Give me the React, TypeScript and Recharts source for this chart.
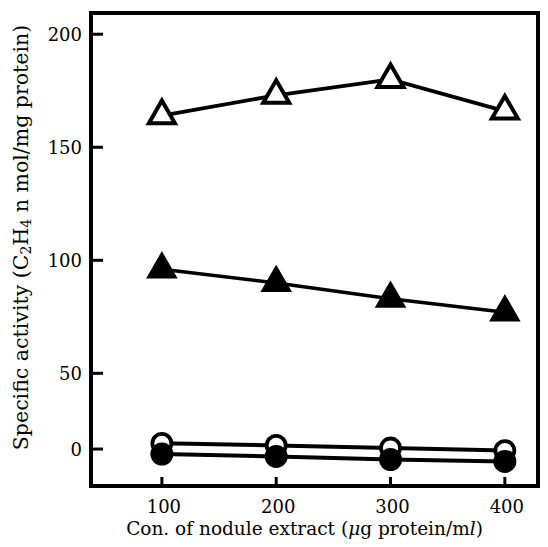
import React from 'react';
import { LineChart, Line, XAxis, YAxis, Label, ReferenceArea } from 'recharts';

// ---- data ----
const concentrations = [100, 200, 300, 400];
const openTriangle = [164, 173, 180, 166];
const filledTriangle = [96, 90, 83, 77];
const openCircle = [3.8, 2.4, 0.7, -1.0];
const filledCircle = [-3.3, -4.9, -6.9, -8.2];
const xTicks = [100, 200, 300, 400];
const yTicks = [0, 50, 100, 150, 200];

const data = concentrations.map((c, i) => ({
  c,
  openTri: openTriangle[i],
  filledTri: filledTriangle[i],
  openCirc: openCircle[i],
  filledCirc: filledCircle[i],
}));

const X_DOMAIN = [38, 429];
const Y_DOMAIN = [-24.4, 209.4];
// the axis is compressed below 50 (0 sits closer to 50 than the linear step)
const BREAK = 50;
const LOW_RATIO = 0.67;

const FONT = '"DejaVu Serif", "Liberation Serif", serif';

function warp(v: number) {
  return v >= BREAK ? v : BREAK - (BREAK - v) * LOW_RATIO;
}
function unwarp(w: number) {
  return w >= BREAK ? w : BREAK - (BREAK - w) / LOW_RATIO;
}

function brokenScale(dom: number[] = [0, 1], rng: number[] = [0, 1]): any {
  let d = dom.slice();
  let r = rng.slice();
  const s: any = (v: any) => {
    const n = Number(v);
    const w0 = warp(d[0]);
    const w1 = warp(d[d.length - 1]);
    const r0 = r[0];
    const r1 = r[r.length - 1];
    if (w1 === w0) return (r0 + r1) / 2;
    return r0 + ((warp(n) - w0) / (w1 - w0)) * (r1 - r0);
  };
  s.domain = (x?: any) => {
    if (x === undefined) return d.slice();
    d = Array.from(x, Number);
    return s;
  };
  s.range = (x?: any) => {
    if (x === undefined) return r.slice();
    r = Array.from(x, Number);
    return s;
  };
  s.rangeRound = s.range;
  s.copy = () => brokenScale(d, r);
  s.ticks = () => yTicks.slice();
  s.tickFormat = () => (v: any) => String(v);
  s.invert = (px: number) => {
    const w0 = warp(d[0]);
    const w1 = warp(d[d.length - 1]);
    const r0 = r[0];
    const r1 = r[r.length - 1];
    const w = w0 + ((px - r0) / (r1 - r0)) * (w1 - w0);
    return unwarp(w);
  };
  s.clamp = (x?: any) => (x === undefined ? false : s);
  s.nice = () => s;
  s.unknown = (x?: any) => (x === undefined ? undefined : s);
  return s;
}

const yScale = brokenScale(Y_DOMAIN, [1, 0]);

const YTick = (props: any) => {
  const { x, y, payload } = props;
  const axisX = x + 9;
  return (
    <g>
      <line x1={axisX} x2={axisX + 12} y1={y} y2={y} stroke="#000" strokeWidth={3} />
      <text x={x} y={y} dy="0.36em" textAnchor="end" fontSize={18} fontFamily={FONT} fill="#000">
        {payload.value}
      </text>
    </g>
  );
};

const XTick = (props: any) => {
  const { x, y, payload } = props;
  return (
    <g>
      <line x1={x} x2={x} y1={y} y2={y - 9} stroke="#000" strokeWidth={3} />
      <text x={x + 2} y={y + 27} textAnchor="middle" fontSize={18} fontFamily={FONT} fill="#000">
        {payload.value}
      </text>
    </g>
  );
};

const YTitle = (props: any) => {
  const vb = props.viewBox || {};
  const cx = 21;
  const cy = (vb.y || 0) + (vb.height || 0) / 2 - 12;
  return (
    <text
      x={cx}
      y={cy}
      transform={`rotate(-90, ${cx}, ${cy})`}
      textAnchor="middle"
      dominantBaseline="central"
      fontSize={20.5}
      fontFamily={FONT}
      fill="#000"
    >
      Specific activity (C<tspan fontSize={14} dy={5}>2</tspan>
      <tspan dy={-5}>H</tspan>
      <tspan fontSize={14} dy={5}>4</tspan>
      <tspan dy={-5}> n mol/mg protein)</tspan>
    </text>
  );
};

const XTitle = (props: any) => {
  const vb = props.viewBox || {};
  const cx = (vb.x || 0) + (vb.width || 0) / 2 - 10;
  const cy = (vb.y || 0) + 49;
  return (
    <text x={cx} y={cy} textAnchor="middle" fontSize={18.5} fontFamily={FONT} fill="#000">
      Con. of nodule extract (<tspan fontStyle="italic">μ</tspan>g protein/m
      <tspan fontStyle="italic">l</tspan>)
    </text>
  );
};

const triPoints = (cx: number, cy: number, side: number) => {
  const h = (side * Math.sqrt(3)) / 2;
  return `${cx},${cy - (2 * h) / 3} ${cx - side / 2},${cy + h / 3} ${cx + side / 2},${cy + h / 3}`;
};

const OpenTriangleDot = (props: any) => {
  const { cx, cy, index } = props;
  if (cx == null || cy == null) return <g key={`ot-${index}`} />;
  return (
    <polygon
      key={`ot-${index}`}
      points={triPoints(cx, cy, 26)}
      fill="#fff"
      stroke="#000"
      strokeWidth={4}
      strokeLinejoin="miter"
    />
  );
};

const FilledTriangleDot = (props: any) => {
  const { cx, cy, index } = props;
  if (cx == null || cy == null) return <g key={`ft-${index}`} />;
  return <polygon key={`ft-${index}`} points={triPoints(cx, cy, 29)} fill="#000" stroke="#000" strokeWidth={1.5} />;
};

const OpenCircleDot = (props: any) => {
  const { cx, cy, index } = props;
  if (cx == null || cy == null) return <g key={`oc-${index}`} />;
  return <circle key={`oc-${index}`} cx={cx} cy={cy} r={9.5} fill="#fff" stroke="#000" strokeWidth={3.8} />;
};

const FilledCircleDot = (props: any) => {
  const { cx, cy, index } = props;
  if (cx == null || cy == null) return <g key={`fc-${index}`} />;
  return <circle key={`fc-${index}`} cx={cx} cy={cy} r={11.5} fill="#000" stroke="none" />;
};

export default function App() {
  return (
    <div style={{ position: 'absolute', left: 0, top: 0, width: 548, height: 547, background: '#fff' }}>
      <LineChart
        width={548}
        height={547}
        data={data}
        margin={{ top: 13, right: 10, left: 0, bottom: 0 }}
      >
        <XAxis
          dataKey="c"
          type="number"
          domain={X_DOMAIN}
          ticks={xTicks}
          allowDataOverflow
          height={61}
          tickSize={0}
          tickMargin={0}
          tickLine={false}
          tick={<XTick />}
          axisLine={{ stroke: '#000', strokeWidth: 4 }}
        >
          <Label content={<XTitle />} />
        </XAxis>
        <YAxis
          type="number"
          domain={Y_DOMAIN}
          scale={yScale}
          ticks={yTicks}
          allowDataOverflow
          width={91}
          tickSize={0}
          tickMargin={9}
          tickLine={false}
          tick={<YTick />}
          axisLine={{ stroke: '#000', strokeWidth: 4 }}
        >
          <Label content={<YTitle />} />
        </YAxis>
        <ReferenceArea
          x1={X_DOMAIN[0]}
          x2={X_DOMAIN[1]}
          y1={Y_DOMAIN[0]}
          y2={Y_DOMAIN[1]}
          fill="none"
          fillOpacity={0}
          stroke="#000"
          strokeWidth={4}
          ifOverflow="visible"
        />
        <Line
          dataKey="openCirc"
          stroke="#000"
          strokeWidth={4}
          dot={OpenCircleDot}
          activeDot={false}
          isAnimationActive={false}
        />
        <Line
          dataKey="filledCirc"
          stroke="#000"
          strokeWidth={4}
          dot={FilledCircleDot}
          activeDot={false}
          isAnimationActive={false}
        />
        <Line
          dataKey="filledTri"
          stroke="#000"
          strokeWidth={3.5}
          dot={FilledTriangleDot}
          activeDot={false}
          isAnimationActive={false}
        />
        <Line
          dataKey="openTri"
          stroke="#000"
          strokeWidth={3.8}
          dot={OpenTriangleDot}
          activeDot={false}
          isAnimationActive={false}
        />
      </LineChart>
    </div>
  );
}
